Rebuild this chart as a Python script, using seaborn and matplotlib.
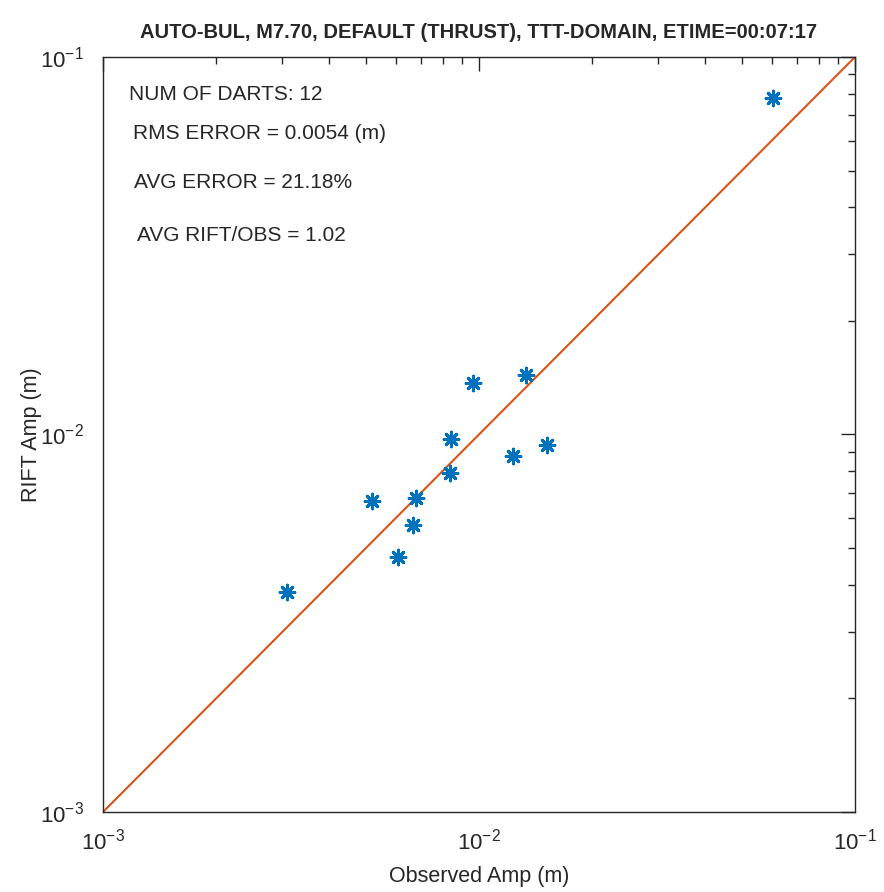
import numpy as np
import pandas as pd
import matplotlib
matplotlib.use("Agg")
import matplotlib.pyplot as plt
from matplotlib.ticker import FuncFormatter
import seaborn as sns

# observed vs modelled amplitudes (m)
observed = [0.0605, 0.00308, 0.00519, 0.00610, 0.00667, 0.00680,
            0.00837, 0.00843, 0.00964, 0.01334, 0.01231, 0.01517]
rift = [0.0778, 0.00383, 0.00667, 0.00473, 0.00575, 0.00679,
        0.00791, 0.00973, 0.01369, 0.01438, 0.00877, 0.00938]
one_to_one = [1e-3, 1e-1]

title = "AUTO-BUL, M7.70, DEFAULT (THRUST), TTT-DOMAIN, ETIME=00:07:17"
stats = ["NUM OF DARTS: 12", "RMS ERROR = 0.0054 (m)",
         "AVG ERROR = 21.18%", "AVG RIFT/OBS = 1.02"]

df = pd.DataFrame({"obs": observed, "rift": rift})

sns.set_style("white")
plt.rcParams["font.family"] = ["Liberation Sans", "DejaVu Sans"]
plt.rcParams["axes.unicode_minus"] = False

fig = plt.figure(figsize=(8.84, 8.92), dpi=100)
ax = fig.add_axes([0.1165, 0.0897, 0.8507, 0.8464])

ax.plot(one_to_one, one_to_one, color="#D95319", lw=1.5, zorder=1)
sns.scatterplot(data=df, x="obs", y="rift", ax=ax, marker=(8, 2, 0),
                s=110, color="#0072BD", linewidth=2.2, edgecolor="#0072BD", zorder=2)

ax.set_xscale("log")
ax.set_yscale("log")
ax.set_xlim(1e-3, 1e-1)
ax.set_ylim(1e-3, 1e-1)

fmt = FuncFormatter(lambda v, p: r"$\mathregular{10^{%d}}$" % round(np.log10(v)))
ax.xaxis.set_major_formatter(fmt)
ax.yaxis.set_major_formatter(fmt)

ax.tick_params(which="both", direction="in", top=True, right=True, labelsize=16, colors="#262626")
ax.tick_params(which="major", length=10, width=1.0)
ax.tick_params(axis="x", which="major", pad=12)
ax.tick_params(axis="y", which="major", pad=14)
ax.tick_params(which="minor", length=5, width=1.0)
for s in ax.spines.values():
    s.set_color("#262626")
    s.set_linewidth(1.0)

ax.set_xlabel("Observed Amp (m)", fontsize=15.5, color="#262626")
ax.set_ylabel("RIFT Amp (m)", fontsize=15.5, color="#262626")
ax.xaxis.set_label_coords(0.5, -0.072)
ax.yaxis.set_label_coords(-0.081, 0.5)
ax.set_title(title, fontsize=14.5, fontweight="bold", pad=14)

pos = [(0.035, 0.950), (0.040, 0.899), (0.041, 0.834), (0.045, 0.764)]
for (tx, ty), txt in zip(pos, stats):
    ax.text(tx, ty, txt, transform=ax.transAxes, fontsize=15, va="center", ha="left", color="#262626")

fig.savefig("out.png", dpi=100)
